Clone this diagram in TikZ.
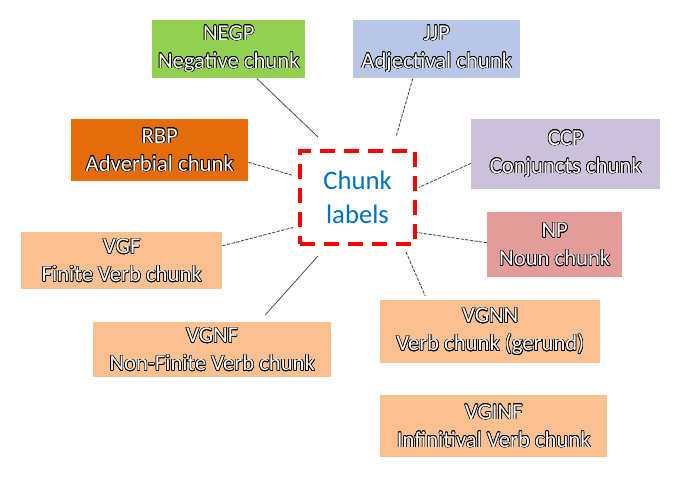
\documentclass[tikz,border=0pt]{standalone}
\usepackage{fontspec}
\setmainfont{Carlito}
\usepackage[copies]{contour}
\contourlength{0.45pt}
\usetikzlibrary{calc}

\definecolor{negpgreen}{HTML}{92D050}
\definecolor{jjpblue}{HTML}{B8C6E8}
\definecolor{rbporange}{HTML}{E46C0A}
\definecolor{ccplilac}{HTML}{CCC1DA}
\definecolor{nppink}{HTML}{E39C99}
\definecolor{vgpeach}{HTML}{FAC090}
\definecolor{hubblue}{HTML}{0070C0}

\newcommand{\chunkname}[2]{\contour{black}{#1}\\\contour{black}{#2}}

\begin{document}
\begin{tikzpicture}[x=0.75pt, y=-0.75pt,
    chunk/.style={anchor=north west, inner sep=0pt, align=center, text=white, font=\fontsize{17}{21}\selectfont},
    hub/.style={anchor=north west, draw=red, line width=3pt, dash pattern=on 11pt off 7pt, inner sep=0pt, align=center, text=hubblue, font=\fontsize{20}{26}\selectfont},
    link/.style={draw=black!70, line width=0.6pt},
    dotlink/.style={link, draw=black!75, dash pattern=on 2.5pt off 1pt}
]
\fill[white] (0,0) rectangle (682,491);
\useasboundingbox (0,0) rectangle (682,491);

% centre box
\node[hub, minimum width=86.25pt, minimum height=69.75pt] (labels) at (298,149) {Chunk\\labels};

% chunk boxes
\node[chunk, fill=negpgreen, minimum width=114.75pt, minimum height=43.5pt] (negp) at (152,20) {\chunkname{NEGP}{Negative chunk}};
\node[chunk, fill=jjpblue, minimum width=125.25pt, minimum height=43.5pt] (jjp) at (353,20) {\chunkname{JJP}{Adjectival chunk}};
\node[chunk, fill=rbporange, minimum width=132.75pt, minimum height=46.5pt] (rbp) at (71,119) {\chunkname{RBP}{Adverbial chunk}};
\node[chunk, fill=ccplilac, minimum width=141.75pt, minimum height=52.5pt] (ccp) at (471,119) {\chunkname{CCP}{Conjuncts chunk}};
\node[chunk, fill=nppink, minimum width=101.25pt, minimum height=48.75pt] (np) at (487,212) {\chunkname{NP}{Noun chunk}};
\node[chunk, fill=vgpeach, minimum width=150.75pt, minimum height=42.75pt] (vgf) at (21,232) {\chunkname{VGF}{Finite Verb chunk}};
\node[chunk, fill=vgpeach, minimum width=178.5pt, minimum height=41.25pt] (vgnf) at (93,322) {\chunkname{VGNF}{Non-Finite Verb chunk}};
\node[chunk, fill=vgpeach, minimum width=165pt, minimum height=47.25pt] (vgnn) at (380,300) {\chunkname{VGNN}{Verb chunk (gerund)}};
\node[chunk, fill=vgpeach, minimum width=170.25pt, minimum height=46.5pt] (vginf) at (380,395) {\chunkname{VGINF}{Infinitival Verb chunk}};

% connectors
\draw[link] ($(negp.south)+(28,0)$) -- ($(labels.north west)+(20,-12)$);
\draw[dotlink] ($(jjp.south)+(-24,0)$) -- ($(labels.north east)+(-21,-12)$);
\draw[dotlink] ($(rbp.east)+(0,12)$) -- ($(labels.west)+(-5,-22)$);
\draw[dotlink] ($(vgf.east)+(0,-15)$) -- ($(labels.west)+(-5,30)$);
\draw[link] ($(vgnf.north)+(53,-7)$) -- ($(labels.south west)+(20,10)$);
\draw[dotlink] ($(ccp.west)+(0,9)$) -- ($(labels.east)+(2,-10)$);
\draw[dotlink] ($(np.west)+(0,-2)$) -- ($(labels.east)+(0,35)$);
\draw[dotlink] ($(labels.south east)+(-11,6)$) -- ($(vgnn.north)+(-65,-4)$);
\end{tikzpicture}
\end{document}
